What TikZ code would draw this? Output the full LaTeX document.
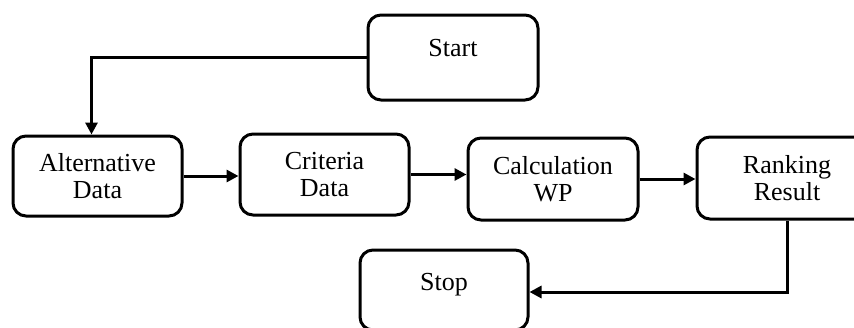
\documentclass[tikz,border=0pt]{standalone}
\usepackage{fontspec}
\setmainfont{Liberation Serif}
\usetikzlibrary{arrows.meta}
\begin{document}
\begin{tikzpicture}[x=1pt,y=-1pt,
  box/.style={draw, line width=3pt, rounded corners=13pt, inner sep=0pt, align=center,
    font=\fontsize{26}{27}\selectfont},
  conn/.style={line width=3pt, -{Triangle[length=12pt,width=12pt]}}]
\useasboundingbox (0,0) rectangle (854,327);
\node[box, minimum width=170pt, text height=41pt, text depth=44pt, text width=170pt] (start) at (453,57.5) {Start};
\node[box, minimum width=169pt, minimum height=80pt] (alt) at (97.5,176) {Alternative\\Data};
\node[box, minimum width=169pt, minimum height=81pt] (crit) at (324.5,174.5) {Criteria\\Data};
\node[box, minimum width=170pt, minimum height=82pt] (calc) at (553,179) {Calculation\\WP};
\node[box, minimum width=180pt, minimum height=82pt] (rank) at (787,178) {Ranking\\Result};
\node[box, minimum width=168pt, text height=40pt, text depth=40pt, text width=168pt] (stop) at (444,290) {Stop};
\draw[conn] (start.west) -| ([xshift=-6pt]alt.north);
\draw[conn] (alt.east) -- (crit.west |- alt.east);
\draw[conn] (crit.east) -- (calc.west |- crit.east);
\draw[conn] (calc.east) -- (rank.west |- calc.east);
\draw[conn] (rank.south) |- ([yshift=-2pt]stop.east);
\end{tikzpicture}
\end{document}
